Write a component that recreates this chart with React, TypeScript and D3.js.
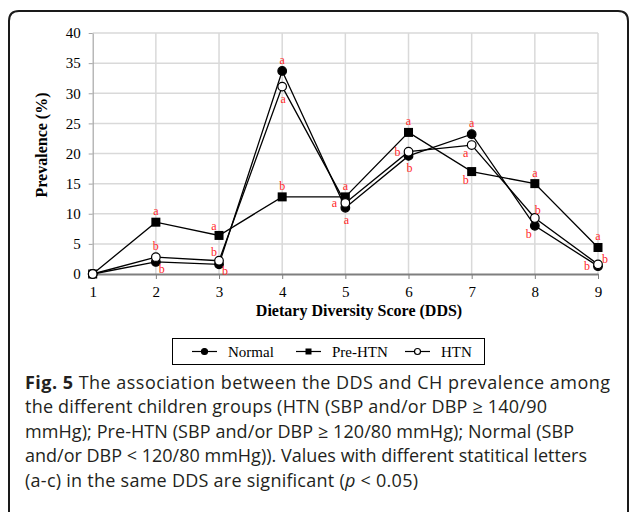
import React, { useEffect, useRef } from 'react';
import * as d3 from 'd3';

// x categories and y ticks
const dds = [1, 2, 3, 4, 5, 6, 7, 8, 9];
const yTicks = [0, 5, 10, 15, 20, 25, 30, 35, 40];

// prevalence (%) per DDS
const normal = [0, 2.0, 1.6, 33.7, 11.0, 19.6, 23.2, 8.0, 1.3];
const preHtn = [0, 8.6, 6.4, 12.8, 12.8, 23.5, 17.0, 15.0, 4.4];
const htn = [0, 2.8, 2.2, 31.1, 11.8, 20.3, 21.4, 9.3, 1.6];

// significance letters and where they sit relative to the marker
const normalLetters = ['', 'b', 'b', 'a', 'a', 'b', 'a', 'b', 'b'];
const normalSpots = ['', 'belowRight', 'belowRight', 'above', 'below', 'below', 'above', 'belowLeft', 'left'];
const preHtnLetters = ['', 'a', 'a', 'b', 'a', 'a', 'b', 'a', 'a'];
const preHtnSpots = ['', 'above', 'aboveLeft', 'above', 'above', 'above', 'belowLeft', 'above', 'above'];
const htnLetters = ['', 'b', 'b', 'a', 'a', 'b', 'a', 'b', 'b'];
const htnSpots = ['', 'above', 'aboveLeft', 'below', 'left', 'left', 'belowLeft', 'aboveRight', 'right'];

const seriesNames = ['Normal', 'Pre-HTN', 'HTN'];

const captionLines = [
  'the different children groups (HTN (SBP and/or DBP \u2265 140/90',
  'mmHg); Pre-HTN (SBP and/or DBP \u2265 120/80 mmHg); Normal (SBP',
  'and/or DBP < 120/80 mmHg)). Values with different statitical letters',
];
// measured line widths of the caption in the figure
const captionWidths = [585, 522, 549, 562, 393];

const spotOffset: Record<string, [number, number]> = {
  above: [0, -11],
  below: [1, 12],
  left: [-11, 0],
  right: [7, -5],
  belowRight: [6, 7],
  belowLeft: [-6, 8],
  aboveLeft: [-5, -9],
  aboveRight: [3, -8],
};

const serif = '"Liberation Serif", "Times New Roman", serif';
const sans = '"Open Sans", "Noto Sans", sans-serif';

function App() {
  const ref = useRef<SVGSVGElement>(null);

  useEffect(() => {
    const svg = d3.select(ref.current);
    svg.selectAll('*').remove();

    const x0 = 92.7, x1 = 598, yTop = 33, yBot = 274;

    // frame around the figure
    svg.append('path')
      .attr('d', 'M9,540 L9,21 Q9,11 19,11 L618,11 Q628,11 628,21 L628,540')
      .attr('fill', 'none')
      .attr('stroke', '#1a1a1a')
      .attr('stroke-width', 2);

    const x = d3.scaleLinear().domain([1, 9]).range([x0, x1]);
    const y = d3.scaleLinear().domain([0, 40]).range([yBot, yTop]);

    const g = svg.append('g');

    // gridlines
    g.selectAll('.hgrid').data(yTicks.slice(1)).join('line')
      .attr('class', 'hgrid')
      .attr('x1', x0).attr('x2', x1)
      .attr('y1', d => y(d)).attr('y2', d => y(d))
      .attr('stroke', '#d9d9d9').attr('stroke-width', 1.5);

    g.selectAll('.vgrid').data(dds.slice(1)).join('line')
      .attr('class', 'vgrid')
      .attr('x1', d => x(d)).attr('x2', d => x(d))
      .attr('y1', yTop).attr('y2', yBot)
      .attr('stroke', '#d9d9d9').attr('stroke-width', 1.5);

    // axes
    const yAxis = g.append('g')
      .attr('transform', `translate(${x0},0)`)
      .call(d3.axisLeft(y).tickValues(yTicks).tickSizeInner(4).tickSizeOuter(0).tickPadding(8));
    yAxis.select('.domain').attr('stroke', '#a6a6a6').attr('stroke-width', 1.2);
    yAxis.selectAll('.tick line').attr('stroke', '#a6a6a6');
    yAxis.selectAll('.tick text')
      .style('font-family', serif).style('font-size', '15px').attr('fill', '#000');

    const xAxis = g.append('g')
      .attr('transform', `translate(0,${yBot})`)
      .call(d3.axisBottom(x).tickValues(dds).tickFormat(d3.format('d')).tickSizeInner(5).tickSizeOuter(0).tickPadding(7));
    xAxis.select('.domain').attr('stroke', '#7f7f7f').attr('stroke-width', 2);
    xAxis.selectAll('.tick line').attr('stroke', '#7f7f7f');
    xAxis.selectAll('.tick text')
      .style('font-family', serif).style('font-size', '15px').attr('fill', '#000');

    // axis titles
    g.append('text')
      .attr('transform', 'translate(47,145) rotate(-90)')
      .attr('text-anchor', 'middle')
      .style('font-family', serif).style('font-size', '16px').style('font-weight', 'bold')
      .text('Prevalence (%)');

    g.append('text')
      .attr('x', 359).attr('y', 316)
      .attr('text-anchor', 'middle')
      .style('font-family', serif).style('font-size', '16px').style('font-weight', 'bold')
      .text('Dietary Diversity Score (DDS)');

    // series
    const series = [
      { name: seriesNames[0], values: normal, letters: normalLetters, spots: normalSpots, marker: 'dot' },
      { name: seriesNames[1], values: preHtn, letters: preHtnLetters, spots: preHtnSpots, marker: 'square' },
      { name: seriesNames[2], values: htn, letters: htnLetters, spots: htnSpots, marker: 'ring' },
    ];

    const line = d3.line<number>()
      .x((d, i) => x(dds[i]))
      .y(d => y(d));

    const drawMarker = (sel: any, kind: string, cx: number, cy: number, size: number) => {
      if (kind === 'square') {
        sel.append('rect')
          .attr('x', cx - size).attr('y', cy - size)
          .attr('width', size * 2).attr('height', size * 2)
          .attr('fill', '#000');
      } else {
        sel.append('circle')
          .attr('cx', cx).attr('cy', cy).attr('r', size)
          .attr('fill', kind === 'dot' ? '#000' : '#fff')
          .attr('stroke', '#000').attr('stroke-width', 1.2);
      }
    };

    series.forEach(s => {
      const sg = g.append('g');
      sg.append('path')
        .attr('d', line(s.values))
        .attr('fill', 'none')
        .attr('stroke', '#000')
        .attr('stroke-width', 1.3);
      s.values.forEach((v, i) => {
        drawMarker(sg, s.marker, x(dds[i]), y(v), s.marker === 'square' ? 4.5 : 4.3);
      });
    });

    // significance letters
    series.forEach(s => {
      g.selectAll(null).data(s.values.map((v, i) => ({ v, i })).filter(d => s.letters[d.i] !== ''))
        .join('text')
        .attr('x', d => x(dds[d.i]) + spotOffset[s.spots[d.i]][0])
        .attr('y', d => y(d.v) + spotOffset[s.spots[d.i]][1])
        .attr('text-anchor', 'middle')
        .attr('dominant-baseline', 'central')
        .attr('fill', '#ff2a2a')
        .style('font-family', serif).style('font-size', '12px')
        .text(d => s.letters[d.i]);
    });

    // legend
    const lg = svg.append('g');
    lg.append('rect')
      .attr('x', 172.5).attr('y', 338.5).attr('width', 312).attr('height', 26)
      .attr('fill', '#fff').attr('stroke', '#000').attr('stroke-width', 1);

    const legendX = [192, 296, 405];
    series.forEach((s, i) => {
      const lx = legendX[i];
      lg.append('line')
        .attr('x1', lx).attr('x2', lx + 25)
        .attr('y1', 351.5).attr('y2', 351.5)
        .attr('stroke', '#000').attr('stroke-width', 1.2);
      drawMarker(lg, s.marker, lx + 12.5, 351.5, 3);
      lg.append('text')
        .attr('x', lx + 36).attr('y', 356.5)
        .style('font-family', serif).style('font-size', '15px')
        .text(s.name);
    });

    // caption
    const cap = svg.append('g')
      .style('font-family', sans).style('font-size', '18px').attr('fill', '#231f20');

    const capX = 25, capY = 388.5, lh = 24.5;

    const first = cap.append('text').attr('x', capX).attr('y', capY)
      .attr('textLength', captionWidths[0]);
    first.append('tspan').style('font-weight', 'bold').text('Fig. 5');
    first.append('tspan').text(' The association between the DDS and CH prevalence among');

    captionLines.forEach((t, i) => {
      cap.append('text').attr('x', capX).attr('y', capY + (i + 1) * lh)
        .attr('textLength', captionWidths[i + 1])
        .text(t);
    });

    const last = cap.append('text').attr('x', capX).attr('y', capY + 4 * lh)
      .attr('textLength', captionWidths[4]);
    last.append('tspan').text('(a-c) in the same DDS are significant (');
    last.append('tspan').style('font-style', 'italic').text('p');
    last.append('tspan').text(' < 0.05)');
  }, []);

  return (
    <svg ref={ref} width={629} height={512}
      style={{ position: 'absolute', left: 0, top: 0, background: '#fff' }} />
  );
}

export default App;
